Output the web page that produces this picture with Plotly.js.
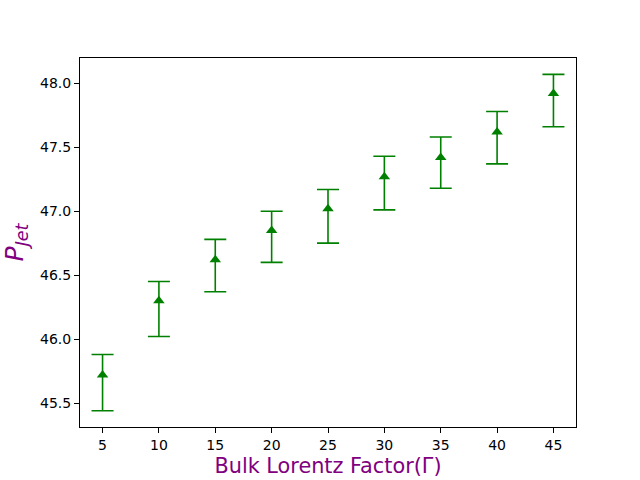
<!DOCTYPE html>
<html>
<head>
<meta charset="utf-8">
<script src="https://cdn.plot.ly/plotly-3.0.1.min.js"></script>
<style>
  body { margin: 0; }
  #chart { width: 640px; height: 480px; }
</style>
</head>
<body>
<div id="chart"></div>
<script>
let gamma = [5, 10, 15, 20, 25, 30, 35, 40, 45];
let pJet = [45.72, 46.30, 46.62, 46.85, 47.02, 47.27, 47.42, 47.62, 47.92];
let errPlus = [0.16, 0.15, 0.16, 0.15, 0.15, 0.16, 0.16, 0.16, 0.15];
let errMinus = [0.28, 0.28, 0.25, 0.25, 0.27, 0.26, 0.24, 0.25, 0.26];

let trace = {
  x: gamma,
  y: pJet,
  mode: 'markers',
  type: 'scatter',
  marker: {symbol: 'triangle-up', size: 10, color: 'green'},
  error_y: {
    type: 'data',
    symmetric: false,
    array: errPlus,
    arrayminus: errMinus,
    color: 'green',
    thickness: 1.6,
    width: 11
  },
  showlegend: false
};

let layout = {
  width: 640,
  height: 480,
  margin: {l: 80, r: 64, t: 58, b: 53},
  paper_bgcolor: 'white',
  plot_bgcolor: 'white',
  font: {family: 'DejaVu Sans', size: 14, color: 'black'},
  xaxis: {
    range: [3, 47],
    tickvals: gamma,
    ticks: 'outside',
    ticklen: 5,
    tickwidth: 1,
    tickcolor: 'black',
    showgrid: false,
    zeroline: false,
    showline: true,
    linecolor: 'black',
    linewidth: 1,
    mirror: true,
    title: {text: 'Bulk Lorentz Factor(Γ)', font: {size: 20.8, color: 'purple'}, standoff: 6}
  },
  yaxis: {
    range: [45.3125, 48.198],
    tickvals: [45.5, 46.0, 46.5, 47.0, 47.5, 48.0],
    tickformat: '.1f',
    ticks: 'outside',
    ticklen: 5,
    tickwidth: 1,
    tickcolor: 'black',
    showgrid: false,
    zeroline: false,
    showline: true,
    linecolor: 'black',
    linewidth: 1,
    mirror: true,
    title: {text: '<i>P</i><sub><i>Jet</i></sub>', font: {size: 25, color: 'purple'}, standoff: 10}
  }
};

Plotly.newPlot('chart', [trace], layout, {displayModeBar: false});
</script>
</body>
</html>
